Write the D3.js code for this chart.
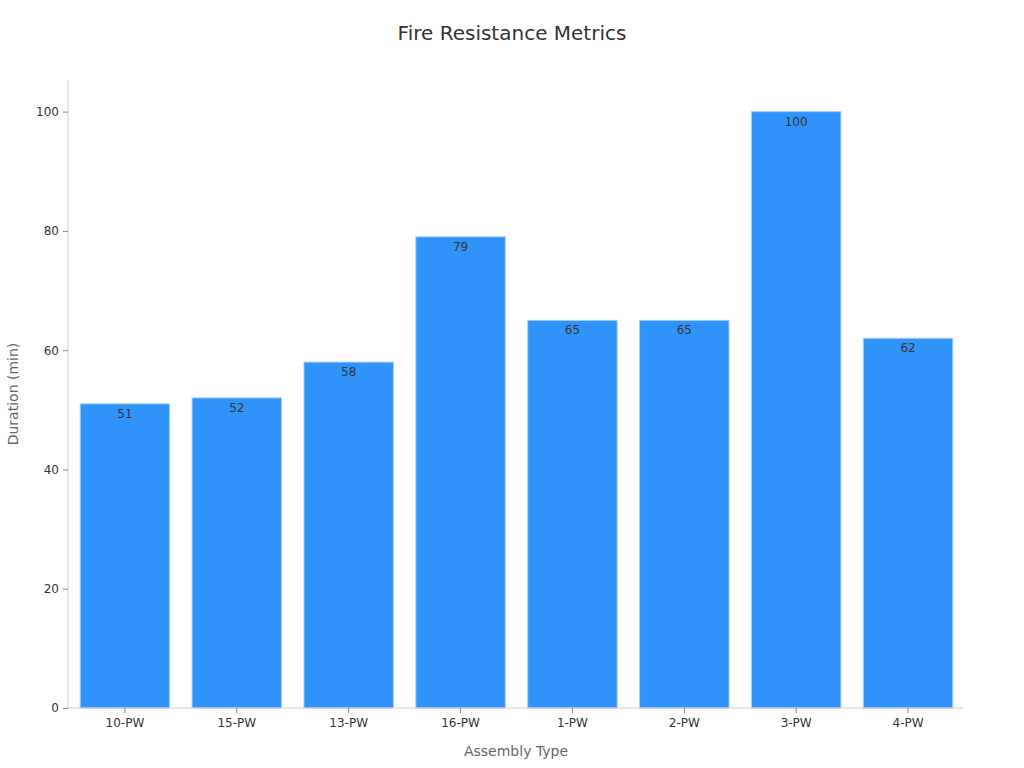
<!DOCTYPE html>
<html>
<head>
<meta charset="utf-8">
<script src="https://cdn.jsdelivr.net/npm/d3@7"></script>
<style>
body{margin:0;background:#fff;}
svg{font-family:"DejaVu Sans",sans-serif;}
</style>
</head>
<body>
<svg id="chart" width="1024" height="768"></svg>
<script>
const categories = ["10-PW","15-PW","13-PW","16-PW","1-PW","2-PW","3-PW","4-PW"];
const values = [51,52,58,79,65,65,100,62];
const yTicks = [0,20,40,60,80,100];

const svg = d3.select("#chart");
const m = {left:68, right:963, top:80, bottom:708};

const x = d3.scaleBand().domain(categories).range([m.left+1, m.right+1]).paddingInner(0.2).paddingOuter(0.1);
const y = d3.scaleLinear().domain([0,105.3]).range([m.bottom, m.top]);

svg.append("text").attr("x",512).attr("y",40).attr("text-anchor","middle")
  .attr("font-size",20).attr("fill","#333").text("Fire Resistance Metrics");

svg.selectAll("rect.bar").data(values).enter().append("rect")
  .attr("class","bar")
  .attr("x",(d,i)=>x(categories[i]))
  .attr("width",x.bandwidth())
  .attr("y",d=>y(d))
  .attr("height",d=>y(0)-y(d))
  .attr("fill","#2f93f9")
  .attr("stroke","#a9cff7").attr("stroke-width",1);

svg.selectAll("text.val").data(values).enter().append("text")
  .attr("x",(d,i)=>x(categories[i])+x.bandwidth()/2)
  .attr("y",d=>y(d)+14)
  .attr("text-anchor","middle").attr("font-size",12).attr("fill","#333")
  .text(d=>d);

const yAxis = svg.append("g").attr("transform",`translate(${m.left},0)`)
  .call(d3.axisLeft(y).tickValues(yTicks).tickSize(5).tickPadding(4));
yAxis.select(".domain").attr("stroke","#ccc").attr("d",`M0,${m.top}V${m.bottom}`);
yAxis.selectAll(".tick line").attr("stroke","#888");
yAxis.selectAll(".tick text").attr("font-size",12).attr("fill","#333").attr("font-family","DejaVu Sans");

const xAxis = svg.append("g").attr("transform",`translate(0,${m.bottom})`)
  .call(d3.axisBottom(x).tickSize(5).tickPadding(5));
xAxis.select(".domain").attr("stroke","#ccc").attr("d",`M${m.left},0H${m.right}`);
xAxis.selectAll(".tick line").attr("stroke","#888");
xAxis.selectAll(".tick text").attr("font-size",12).attr("fill","#333").attr("font-family","DejaVu Sans");

svg.append("text").attr("x",516).attr("y",756).attr("text-anchor","middle")
  .attr("font-size",14).attr("fill","#666").text("Assembly Type");
svg.append("text").attr("transform","translate(18,394) rotate(-90)").attr("text-anchor","middle")
  .attr("font-size",14).attr("fill","#666").text("Duration (min)");
</script>
</body>
</html>
